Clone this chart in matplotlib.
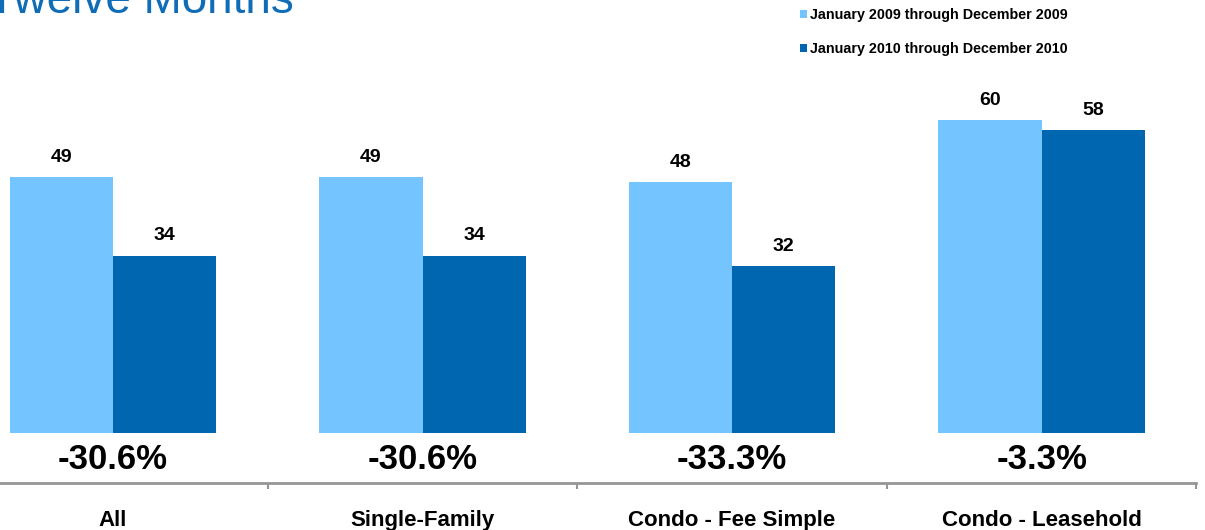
import matplotlib
matplotlib.use("Agg")
from matplotlib import pyplot as plt
import numpy as np

plt.rcParams["font.family"] = ["Liberation Sans", "DejaVu Sans"]

# data
categories = ["All", "Single-Family", "Condo - Fee Simple", "Condo - Leasehold"]
values_2009 = [49, 49, 48, 60]
values_2010 = [34, 34, 32, 58]
pct_labels = ["-30.6%", "-30.6%", "-33.3%", "-3.3%"]
series_names = ["January 2009 through December 2009",
                "January 2010 through December 2010"]

LIGHT = "#73C4FF"
DARK = "#0066AF"
GRAY = "#969696"

fig = plt.figure(figsize=(12.05, 5.30), dpi=100)
ax = fig.add_axes([0, 47 / 530, 1, 1 - 47 / 530])

x = np.arange(len(categories))
w = 0.333
b1 = ax.bar(x - w / 2, values_2009, w, color=LIGHT, label=series_names[0])
b2 = ax.bar(x + w / 2, values_2010, w, color=DARK, label=series_names[1])

# value labels above bars
for xi, v in zip(x - w / 2, values_2009):
    ax.text(xi, v + 2.9, str(v), ha="center", va="baseline",
            fontsize=14, fontweight="bold")
for xi, v in zip(x + w / 2, values_2010):
    ax.text(xi, v + 2.9, str(v), ha="center", va="baseline",
            fontsize=14, fontweight="bold")

# change labels under each group
for xi, p in zip(x, pct_labels):
    ax.text(xi, -5.1, p, ha="center", va="center",
            fontsize=25, fontweight="bold")

ax.set_xlim(-0.365, 3.528)
ax.set_ylim(-9.58, 82.95)

for s in ["top", "left", "right"]:
    ax.spines[s].set_visible(False)
ax.spines["bottom"].set_bounds(-0.5, 3.5)
ax.spines["bottom"].set_color(GRAY)
ax.spines["bottom"].set_linewidth(2)
ax.set_yticks([])

ax.set_xticks(x)
ax.set_xticklabels(categories, fontsize=16, fontweight="bold")
ax.tick_params(axis="x", which="major", length=0, pad=19.5)
ax.set_xticks(np.arange(0.5, 4.0, 1.0), minor=True)
ax.tick_params(axis="x", which="minor", length=4, width=1.5, color=GRAY,
               direction="out")

ax.legend(handles=[b1, b2], loc="upper left",
          bbox_to_anchor=(800 / 1205, 1 - 8 / 530),
          bbox_transform=fig.transFigure, frameon=False,
          prop={"size": 10.3, "weight": "bold"},
          handlelength=0.5, handleheight=0.5, handletextpad=0.2,
          labelspacing=1.42, borderpad=0, borderaxespad=0)

# title is cut off at the top edge, as in the reference
fig.text(-0.01, 1 - 13 / 530, "Twelve Months", fontsize=33,
         color="#0F6CB6", va="baseline", ha="left")

fig.savefig("out.png", dpi=100)
